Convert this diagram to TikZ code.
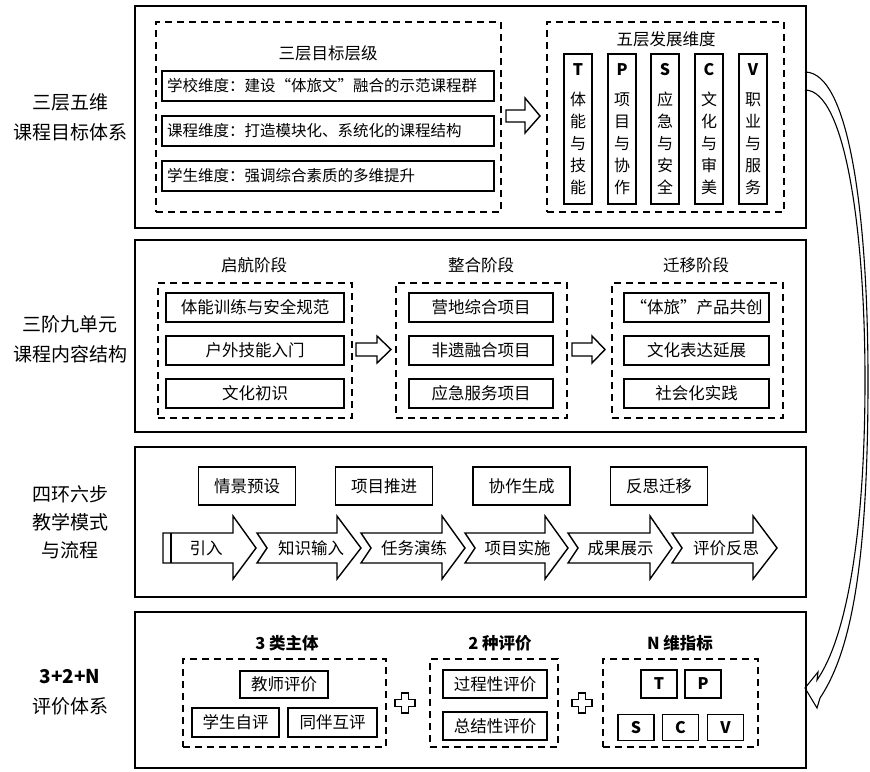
\documentclass[tikz,border=0pt]{standalone}
\usepackage{fontspec}
\setmainfont{Noto Sans CJK SC}
\begin{document}
\begin{tikzpicture}[x=1pt,y=-1pt,
  panel/.style={draw, line width=1.6pt, inner sep=0pt},
  dbox/.style={draw, line width=1.6pt, dash pattern=on 7pt off 5pt, inner sep=0pt},
  sbox/.style={draw, line width=1.8pt, inner sep=0pt, font=\fontsize{16}{18}\selectfont},
  rbox/.style={draw, line width=1.8pt, inner ysep=0pt, inner xsep=5pt, minimum height=30pt, font=\fontsize{15.5}{18}\selectfont},
  tbox/.style={draw, line width=1.4pt, inner sep=0pt, font=\fontsize{16.5}{18}\selectfont},
  lab/.style={align=center, font=\fontsize{19}{30}\selectfont},
  ttl/.style={font=\fontsize{16.5}{18}\selectfont},
  bttl/.style={font=\bfseries\fontsize{16.5}{18}\selectfont},
  shp/.style={draw, line width=1.4pt, fill=white, line join=miter},
  ctxt/.style={font=\fontsize{16.5}{18}\selectfont},
  plussign/.pic={\draw[shp] (-3.5,-10) -- (3.5,-10) -- (3.5,-3.5) -- (10,-3.5) -- (10,3.5) -- (3.5,3.5) -- (3.5,10) -- (-3.5,10) -- (-3.5,3.5) -- (-10,3.5) -- (-10,-3.5) -- (-3.5,-3.5) -- cycle;}
]
\useasboundingbox (0,0) rectangle (870,771);

% ===== curved arrow (behind) =====
\draw[shp, line width=1.1pt] (805,72) .. controls (850,72) and (868,220) .. (868,380)
  .. controls (868,560) and (852,650) .. (820,698) -- (817,708) -- (805,688) -- (818,672) -- (817,680)
  .. controls (845,640) and (865,540) .. (865,380)
  .. controls (865,230) and (845,90) .. (805,90);

% ===== Panel 1 =====
\node[panel, minimum width=671pt, minimum height=222pt] (P1) at (470.5,117) {};
\node[lab] (L1) at (70,117) {三层五维\\课程目标体系};
\node[dbox, minimum width=345pt, minimum height=190pt] (D11) at (328.5,117) {};
\node[ttl] (T11) at (328,53) {三层目标层级};
\node[rbox] (R1) at (328,86) {\makebox[322pt][l]{学校维度：建设“体旅文”融合的示范课程群}};
\node[rbox] (R2) at (328,131) {\makebox[322pt][l]{课程维度：打造模块化、系统化的课程结构}};
\node[rbox] (R3) at (328,176) {\makebox[322pt][l]{学生维度：强调综合素质的多维提升}};
\draw[shp] (506,110) -- (525,110) -- (525,98) -- (540,116) -- (525,133) -- (525,122) -- (506,122) -- cycle;
\node[dbox, minimum width=237pt, minimum height=190pt] (D12) at (665.5,117) {};
\node[ttl] (T12) at (666,39) {五层发展维度};
\foreach \n/\x/\L/\a/\b/\c/\d/\e in {vT/578/T/体/能/与/技/能, vP/622/P/项/目/与/协/作, vS/665/S/应/急/与/安/全, vC/709/C/文/化/与/审/美, vV/753/V/职/业/与/服/务}{
  \node[sbox, minimum width=28pt, minimum height=150pt, align=center, font=\fontsize{16}{22}\selectfont] (\n) at (\x,129) {\textbf{\L}\\[8pt]\a\\\b\\\c\\\d\\\e};
}

% ===== Panel 2 =====
\node[panel, minimum width=671pt, minimum height=192pt] (P2) at (470.5,336) {};
\node[lab] (L2) at (70,339) {三阶九单元\\课程内容结构};
\node[ttl] (T21) at (254,265) {启航阶段};
\node[ttl] (T22) at (481,265) {整合阶段};
\node[ttl] (T23) at (696,265) {迁移阶段};
\node[dbox, minimum width=194pt, minimum height=135pt] (D21) at (255,350.5) {};
\node[dbox, minimum width=171pt, minimum height=135pt] (D22) at (481.5,350.5) {};
\node[dbox, minimum width=171pt, minimum height=135pt] (D23) at (697.5,350.5) {};
\node[sbox, minimum width=178pt, minimum height=29pt, ctxt] (a1) at (255,307.5) {体能训练与安全规范};
\node[sbox, minimum width=178pt, minimum height=29pt, ctxt] (a2) at (255,350.5) {户外技能入门};
\node[sbox, minimum width=178pt, minimum height=29pt, ctxt] (a3) at (255,393.5) {文化初识};
\node[sbox, minimum width=144pt, minimum height=29pt, ctxt] (b1) at (481,307.5) {营地综合项目};
\node[sbox, minimum width=144pt, minimum height=29pt, ctxt] (b2) at (481,350.5) {非遗融合项目};
\node[sbox, minimum width=144pt, minimum height=29pt, ctxt] (b3) at (481,393.5) {应急服务项目};
\node[sbox, minimum width=145pt, minimum height=29pt, ctxt] (c1) at (696.5,307.5) {“体旅”产品共创};
\node[sbox, minimum width=145pt, minimum height=29pt, ctxt] (c2) at (696.5,350.5) {文化表达延展};
\node[sbox, minimum width=145pt, minimum height=29pt, ctxt] (c3) at (696.5,393.5) {社会化实践};
\draw[shp] (356,343) -- (377,343) -- (377,336) -- (391,349.5) -- (377,363) -- (377,356) -- (356,356) -- cycle;
\draw[shp] (572,343) -- (592,343) -- (592,336) -- (605,349.5) -- (592,363) -- (592,356) -- (572,356) -- cycle;

% ===== Panel 3 =====
\node[panel, minimum width=671pt, minimum height=150pt] (P3) at (470.5,522) {};
\node[lab, font=\fontsize{19}{28}\selectfont] (L3) at (70,522) {四环六步\\教学模式\\与流程};
\node[tbox, minimum width=97pt, minimum height=38pt] (s1) at (247,486) {情景预设};
\node[tbox, minimum width=97pt, minimum height=38pt] (s2) at (384,486) {项目推进};
\node[tbox, minimum width=97pt, minimum height=38pt] (s3) at (521.5,486) {协作生成};
\node[tbox, minimum width=97pt, minimum height=38pt] (s4) at (659,486) {反思迁移};
\draw[shp] (163,533) -- (233,533) -- (233,516) -- (256,548) -- (233,579) -- (233,563) -- (163,563) -- cycle;
\draw[line width=1.4pt] (171,533) -- (171,563);
\foreach \xa/\xb/\xc in {257/337/361, 361/442/465, 465/545/568, 568/650/672, 672/753/777}{
  \draw[shp] (\xa,533) -- (\xb,533) -- (\xb,516) -- (\xc,548) -- (\xb,579) -- (\xb,563) -- (\xa,563) -- ({\xa+10},548) -- cycle;
}
\node[ctxt] (f1) at (206,548) {引入};
\node[ctxt] (f2) at (311,548) {知识输入};
\node[ctxt] (f3) at (414,548) {任务演练};
\node[ctxt] (f4) at (517.5,548) {项目实施};
\node[ctxt] (f5) at (620.5,548) {成果展示};
\node[ctxt] (f6) at (726,548) {评价反思};

% ===== Panel 4 =====
\node[panel, minimum width=671pt, minimum height=156pt] (P4) at (470.5,690) {};
\node[align=center, font=\fontsize{19}{30}\selectfont] (L4) at (70,692) {\textbf{3+2+N}\\评价体系};
\node[bttl] (T41) at (287,643) {3 类主体};
\node[bttl] (T42) at (500,643) {2 种评价};
\node[bttl] (T43) at (680,643) {N 维指标};
\node[dbox, minimum width=203pt, minimum height=88pt] (D41) at (284.5,703) {};
\node[dbox, minimum width=128pt, minimum height=88pt] (D42) at (494,703) {};
\node[dbox, minimum width=155pt, minimum height=88pt] (D43) at (680.5,703) {};
\node[sbox, minimum width=88pt, minimum height=27pt, ctxt] (e1) at (284,684.5) {教师评价};
\node[sbox, minimum width=87pt, minimum height=29pt, ctxt] (e2) at (235.5,722.5) {学生自评};
\node[sbox, minimum width=89pt, minimum height=29pt, ctxt] (e3) at (332.5,722.5) {同伴互评};
\node[sbox, minimum width=104pt, minimum height=28pt, ctxt] (g1) at (495,684) {过程性评价};
\node[sbox, minimum width=104pt, minimum height=28pt, ctxt] (g2) at (495,726) {总结性评价};
\node[sbox, minimum width=36pt, minimum height=28pt, font=\bfseries\fontsize{16}{18}\selectfont] (nT) at (659,684) {T};
\node[sbox, minimum width=36pt, minimum height=28pt, font=\bfseries\fontsize{16}{18}\selectfont] (nP) at (703,684) {P};
\node[sbox, minimum width=36pt, minimum height=26pt, font=\bfseries\fontsize{16}{18}\selectfont] (nS) at (636,727.5) {S};
\node[sbox, minimum width=36pt, minimum height=26pt, font=\bfseries\fontsize{16}{18}\selectfont] (nC) at (680.5,727.5) {C};
\node[sbox, minimum width=36pt, minimum height=26pt, font=\bfseries\fontsize{16}{18}\selectfont] (nV) at (725.5,727.5) {V};
\pic at (405,703) {plussign};
\pic at (582,703) {plussign};
\end{tikzpicture}
\end{document}
